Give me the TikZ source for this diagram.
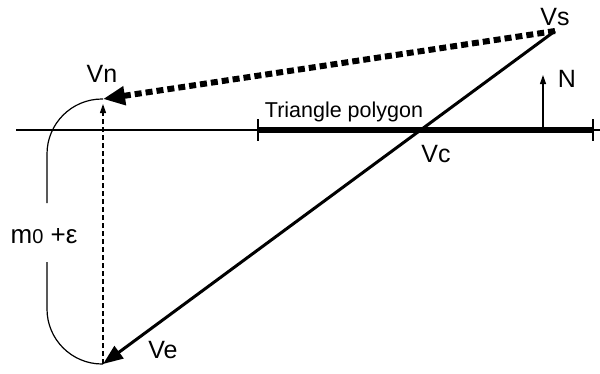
\documentclass[tikz,border=0pt]{standalone}
\usepackage{fontspec}
\setmainfont{Liberation Sans}
\usetikzlibrary{arrows.meta}

\begin{document}
\begin{tikzpicture}[x=1pt, y=-1pt,
  lbl/.style={font=\fontsize{25}{30}\selectfont, inner sep=0pt, anchor=base},
  thinline/.style={line width=1.2pt},
  polyline/.style={line width=6pt},
  rayline/.style={line width=3pt, -{Triangle[length=20pt,width=15pt]}},
  proj/.style={line width=6pt, dash pattern=on 7pt off 4pt, -{Triangle[length=22pt,width=18pt]}},
  small/.style={-{Triangle[length=9pt,width=6pt]}}]
\useasboundingbox (0,0) rectangle (600,373);
% points of the construction
\coordinate (vs) at (555,31);
\coordinate (vn) at (103,99);
\coordinate (ve) at (103,364);
\coordinate (axisL) at (16,130);
\coordinate (axisR) at (600,130);
\coordinate (polyL) at (258,130);
\coordinate (polyR) at (593,130);
\coordinate (nfoot) at (543,130);
\coordinate (ntip) at (543,75);
\coordinate (gapTop) at (47,203);
\coordinate (gapBot) at (47,262);
% labels
\node[lbl] (lvs) at (555,25) {Vs};
\node[lbl] (lvn) at (102,82) {Vn};
\node[lbl] (lvc) at (436,162) {Vc};
\node[lbl] (lve) at (163,358) {Ve};
\node[lbl] (ln) at (567,87) {N};
\node[lbl, font=\fontsize{21.5}{25}\selectfont] (lpoly) at (344,117) {Triangle polygon};
\node[lbl, font=\fontsize{26}{30}\selectfont] (lm) at (44,243) {m{\fontsize{20}{20}\selectfont 0} +ε};
% polygon edge seen from the side
\draw[thinline] (axisL) -- (axisR);
\draw[polyline] (polyL) -- (polyR);
\draw[thinline] ([yshift=11pt]polyL) -- ([yshift=-11pt]polyL);
\draw[thinline] ([yshift=11pt]polyR) -- ([yshift=-11pt]polyR);
\draw[thinline, small] (nfoot) -- (ntip);
% rays
\draw[rayline] (vs) -- (ve);
\draw[proj] (vs) -- (vn);
\draw[thinline, dash pattern=on 5pt off 3pt, small, shorten >=5pt] (ve) -- (vn);
\draw[thinline, rounded corners=55pt] (vn) -| (gapTop);
\draw[thinline, rounded corners=55pt] (gapBot) |- (ve);
\end{tikzpicture}
\end{document}
